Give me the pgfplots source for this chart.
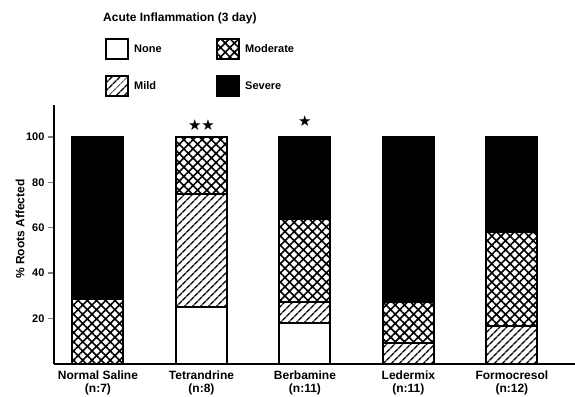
\documentclass[border=0pt]{standalone}
\usepackage{pgfplots}
\pgfplotsset{compat=1.18}
\usepackage{fontspec}
\setmainfont{Liberation Sans}
\newfontfamily\symfont{DejaVu Sans}
\usetikzlibrary{patterns.meta}
\newcommand\ff{\fontsize{11bp}{14bp}\selectfont\bfseries}
\newcommand\fg{\fontsize{12bp}{14bp}\selectfont\bfseries}
\newcommand\fx{\fontsize{12bp}{13bp}\selectfont\bfseries}
\begin{document}
\begin{tikzpicture}
\useasboundingbox (0,0) rectangle (575bp,397bp);
\node[anchor=west,inner sep=0pt,font=\fg] at (103bp,379bp) {Acute Inflammation (3 day)};
\begin{axis}[
  at={(54bp,33bp)}, anchor=south west,
  scale only axis, width=521bp, height=259bp,
  ybar stacked, bar width=51bp,
  xmin=-0.425, xmax=4.61, ymin=0, ymax=114,
  axis lines*=left,
  axis line style={-, line width=2bp},
  xtick=data,
  xticklabels={{Normal Saline\\(n:7)},{Tetrandrine\\(n:8)},{Berbamine\\(n:11)},{Ledermix\\(n:11)},{Formocresol\\(n:12)}},
  x tick label style={align=center, font=\fx, yshift=3bp},
  xtick style={draw=none},
  ytick={20,40,60,80,100},
  y tick label style={font=\ff},
  ytick style={line width=1.4bp},
  tick align=outside, major tick length=6bp,
  /pgf/number format/assume math mode=true,
  every axis y label/.style={at={(axis description cs:-0.065,0.521)}, rotate=90, anchor=center, font=\fg},
  ylabel={\% Roots Affected},
  every axis plot/.append style={draw=black, line width=2bp},
  legend image code/.code={\draw[#1, line width=2bp] (0bp,-10bp) rectangle (22bp,10bp);},
  legend columns=2, transpose legend,
  legend cell align=left,
  legend style={at={(0.0979,1.2587)}, anchor=north west, draw=none, fill=none, inner sep=0pt,
    font=\ff, row sep=15bp, column sep=2bp,
    nodes={inner sep=3bp}},
]
\addplot[fill=white] coordinates {(0,0) (1,25) (2,18.2) (3,0) (4,0)};
\addlegendentry{\makebox[77bp][l]{None}}
\addplot[pattern={Lines[angle=45,distance=6bp,line width=1.5bp]}] coordinates {(0,0) (1,50) (2,9.1) (3,9.1) (4,16.7)};
\addlegendentry{\makebox[77bp][l]{Mild}}
\addplot[pattern={Hatch[angle=45,distance=6.5bp,line width=1.6bp]}] coordinates {(0,28.6) (1,25) (2,36.4) (3,18.2) (4,41.6)};
\addlegendentry{Moderate}
\addplot[fill=black] coordinates {(0,71.4) (1,0) (2,36.4) (3,72.7) (4,41.7)};
\addlegendentry{Severe}
\node[font=\symfont\fontsize{15bp}{15bp}\selectfont, inner sep=0pt] at (axis cs:1,105) {★★};
\node[font=\symfont\fontsize{15bp}{15bp}\selectfont, inner sep=0pt] at (axis cs:2,106.7) {★};
\end{axis}
\end{tikzpicture}
\end{document}
